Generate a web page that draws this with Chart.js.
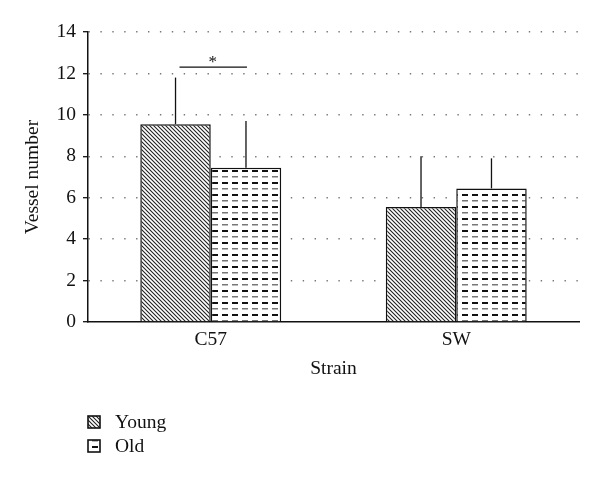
<!DOCTYPE html>
<html>
<head>
<meta charset="utf-8">
<script src="https://cdn.jsdelivr.net/npm/chart.js@4/dist/chart.umd.min.js"></script>
<style>
  html, body { margin: 0; padding: 0; background: #fff; }
  #wrap { width: 600px; height: 480px; }
</style>
</head>
<body>
<div id="wrap"><canvas id="chart" width="600" height="480"></canvas></div>
<script>
const strains = ['C57', 'SW'];
const young = [9.55, 5.55];
const youngErr = [11.8, 8.0];
const old = [7.45, 6.45];
const oldErr = [9.7, 7.9];
const sigLevel = 12.3;
const yTicks = [0, 2, 4, 6, 8, 10, 12, 14];

const FONT = '"Liberation Serif", "Times New Roman", serif';
const FS = 19.5;

function hatchPattern() {
    const c = document.createElement('canvas');
    c.width = 4; c.height = 4;
    const g = c.getContext('2d');
    g.fillStyle = '#fff';
    g.fillRect(0, 0, 4, 4);
    g.strokeStyle = '#222';
    g.lineWidth = 1.1;
    g.beginPath();
    g.moveTo(-1, -1); g.lineTo(5, 5);
    g.moveTo(-1, 3); g.lineTo(1, 5);
    g.moveTo(3, -1); g.lineTo(5, 1);
    g.stroke();
    return g.createPattern(c, 'repeat');
}

function dashPattern() {
    const c = document.createElement('canvas');
    c.width = 10; c.height = 12;
    const g = c.getContext('2d');
    g.fillStyle = '#fff';
    g.fillRect(0, 0, 10, 12);
    g.fillStyle = '#111';
    g.fillRect(2, 2, 6, 2);
    g.fillStyle = '#777';
    g.fillRect(2, 8, 6, 1.5);
    return g.createPattern(c, 'repeat');
}

const youngFill = hatchPattern();
const oldFill = dashPattern();

const errorBars = {
    id: 'errorBars',
    afterDatasetsDraw(chart) {
        const ctx = chart.ctx;
        const y = chart.scales.y;
        const errs = [youngErr, oldErr];
        ctx.save();
        ctx.strokeStyle = '#111';
        ctx.lineWidth = 1.3;
        chart.data.datasets.forEach((ds, i) => {
            chart.getDatasetMeta(i).data.forEach((bar, j) => {
                ctx.beginPath();
                ctx.moveTo(bar.x, bar.y);
                ctx.lineTo(bar.x, y.getPixelForValue(errs[i][j]));
                ctx.stroke();
            });
        });
        // significance bracket over C57
        const a = chart.getDatasetMeta(0).data[0];
        const b = chart.getDatasetMeta(1).data[0];
        const sy = y.getPixelForValue(sigLevel);
        ctx.beginPath();
        ctx.moveTo(a.x + 4, sy);
        ctx.lineTo(b.x + 1, sy);
        ctx.stroke();
        ctx.fillStyle = '#111';
        ctx.font = '17px ' + FONT;
        ctx.textAlign = 'center';
        ctx.textBaseline = 'middle';
        ctx.fillText('*', (a.x + b.x) / 2 + 2, sy - 5);
        ctx.restore();
    }
};

const boxLegend = {
    id: 'boxLegend',
    afterDraw(chart) {
        const ctx = chart.ctx;
        ctx.save();
        ctx.font = FS + 'px ' + FONT;
        ctx.textBaseline = 'middle';
        chart.data.datasets.forEach((ds, i) => {
            const cy = 422 + i * 24;
            ctx.fillStyle = ds.backgroundColor;
            ctx.fillRect(88, cy - 6, 12, 12);
            ctx.strokeStyle = '#111';
            ctx.lineWidth = 1.6;
            ctx.strokeRect(88, cy - 6, 12, 12);
            ctx.fillStyle = '#111';
            ctx.fillText(ds.label, 115, cy + 1);
        });
        ctx.restore();
    }
};

new Chart(document.getElementById('chart'), {
    type: 'bar',
    data: {
        labels: strains,
        datasets: [
            { label: 'Young', data: young, backgroundColor: youngFill, borderColor: '#111', borderWidth: 1.5 },
            { label: 'Old', data: old, backgroundColor: oldFill, borderColor: '#111', borderWidth: 1.5 }
        ]
    },
    options: {
        responsive: false,
        animation: false,
        categoryPercentage: 0.574,
        barPercentage: 1,
        layout: { padding: { top: 32, right: 21, bottom: 98, left: 0 } },
        plugins: {
            legend: { display: false },
            tooltip: { enabled: false }
        },
        scales: {
            x: {
                grid: { display: false, drawTicks: false },
                border: { color: '#111', width: 1.5 },
                ticks: { color: '#111', padding: 6, font: { family: FONT, size: FS } },
                title: { display: true, text: 'Strain', color: '#111', padding: { top: 0, bottom: 1 }, font: { family: FONT, size: FS } },
                afterFit(scale) { scale.height = 60; }
            },
            y: {
                min: 0,
                max: 14,
                afterBuildTicks(scale) { scale.ticks = yTicks.map(v => ({ value: v })); },
                grid: {
                    color: ctx => ctx.tick && ctx.tick.value === 0 ? 'rgba(0,0,0,0)' : '#777',
                    lineWidth: 1.4,
                    tickLength: 5,
                    tickColor: '#111',
                    tickWidth: 1.3,
                    tickBorderDash: []
                },
                border: { color: '#111', width: 1.5, dash: [1.4, 10.5] },
                ticks: { color: '#111', padding: 7, font: { family: FONT, size: FS } },
                title: { display: true, text: 'Vessel number', color: '#111', padding: { top: 21, bottom: 0 }, font: { family: FONT, size: FS } },
                afterFit(scale) { scale.width = 88; }
            }
        }
    },
    plugins: [errorBars, boxLegend]
});
</script>
</body>
</html>
